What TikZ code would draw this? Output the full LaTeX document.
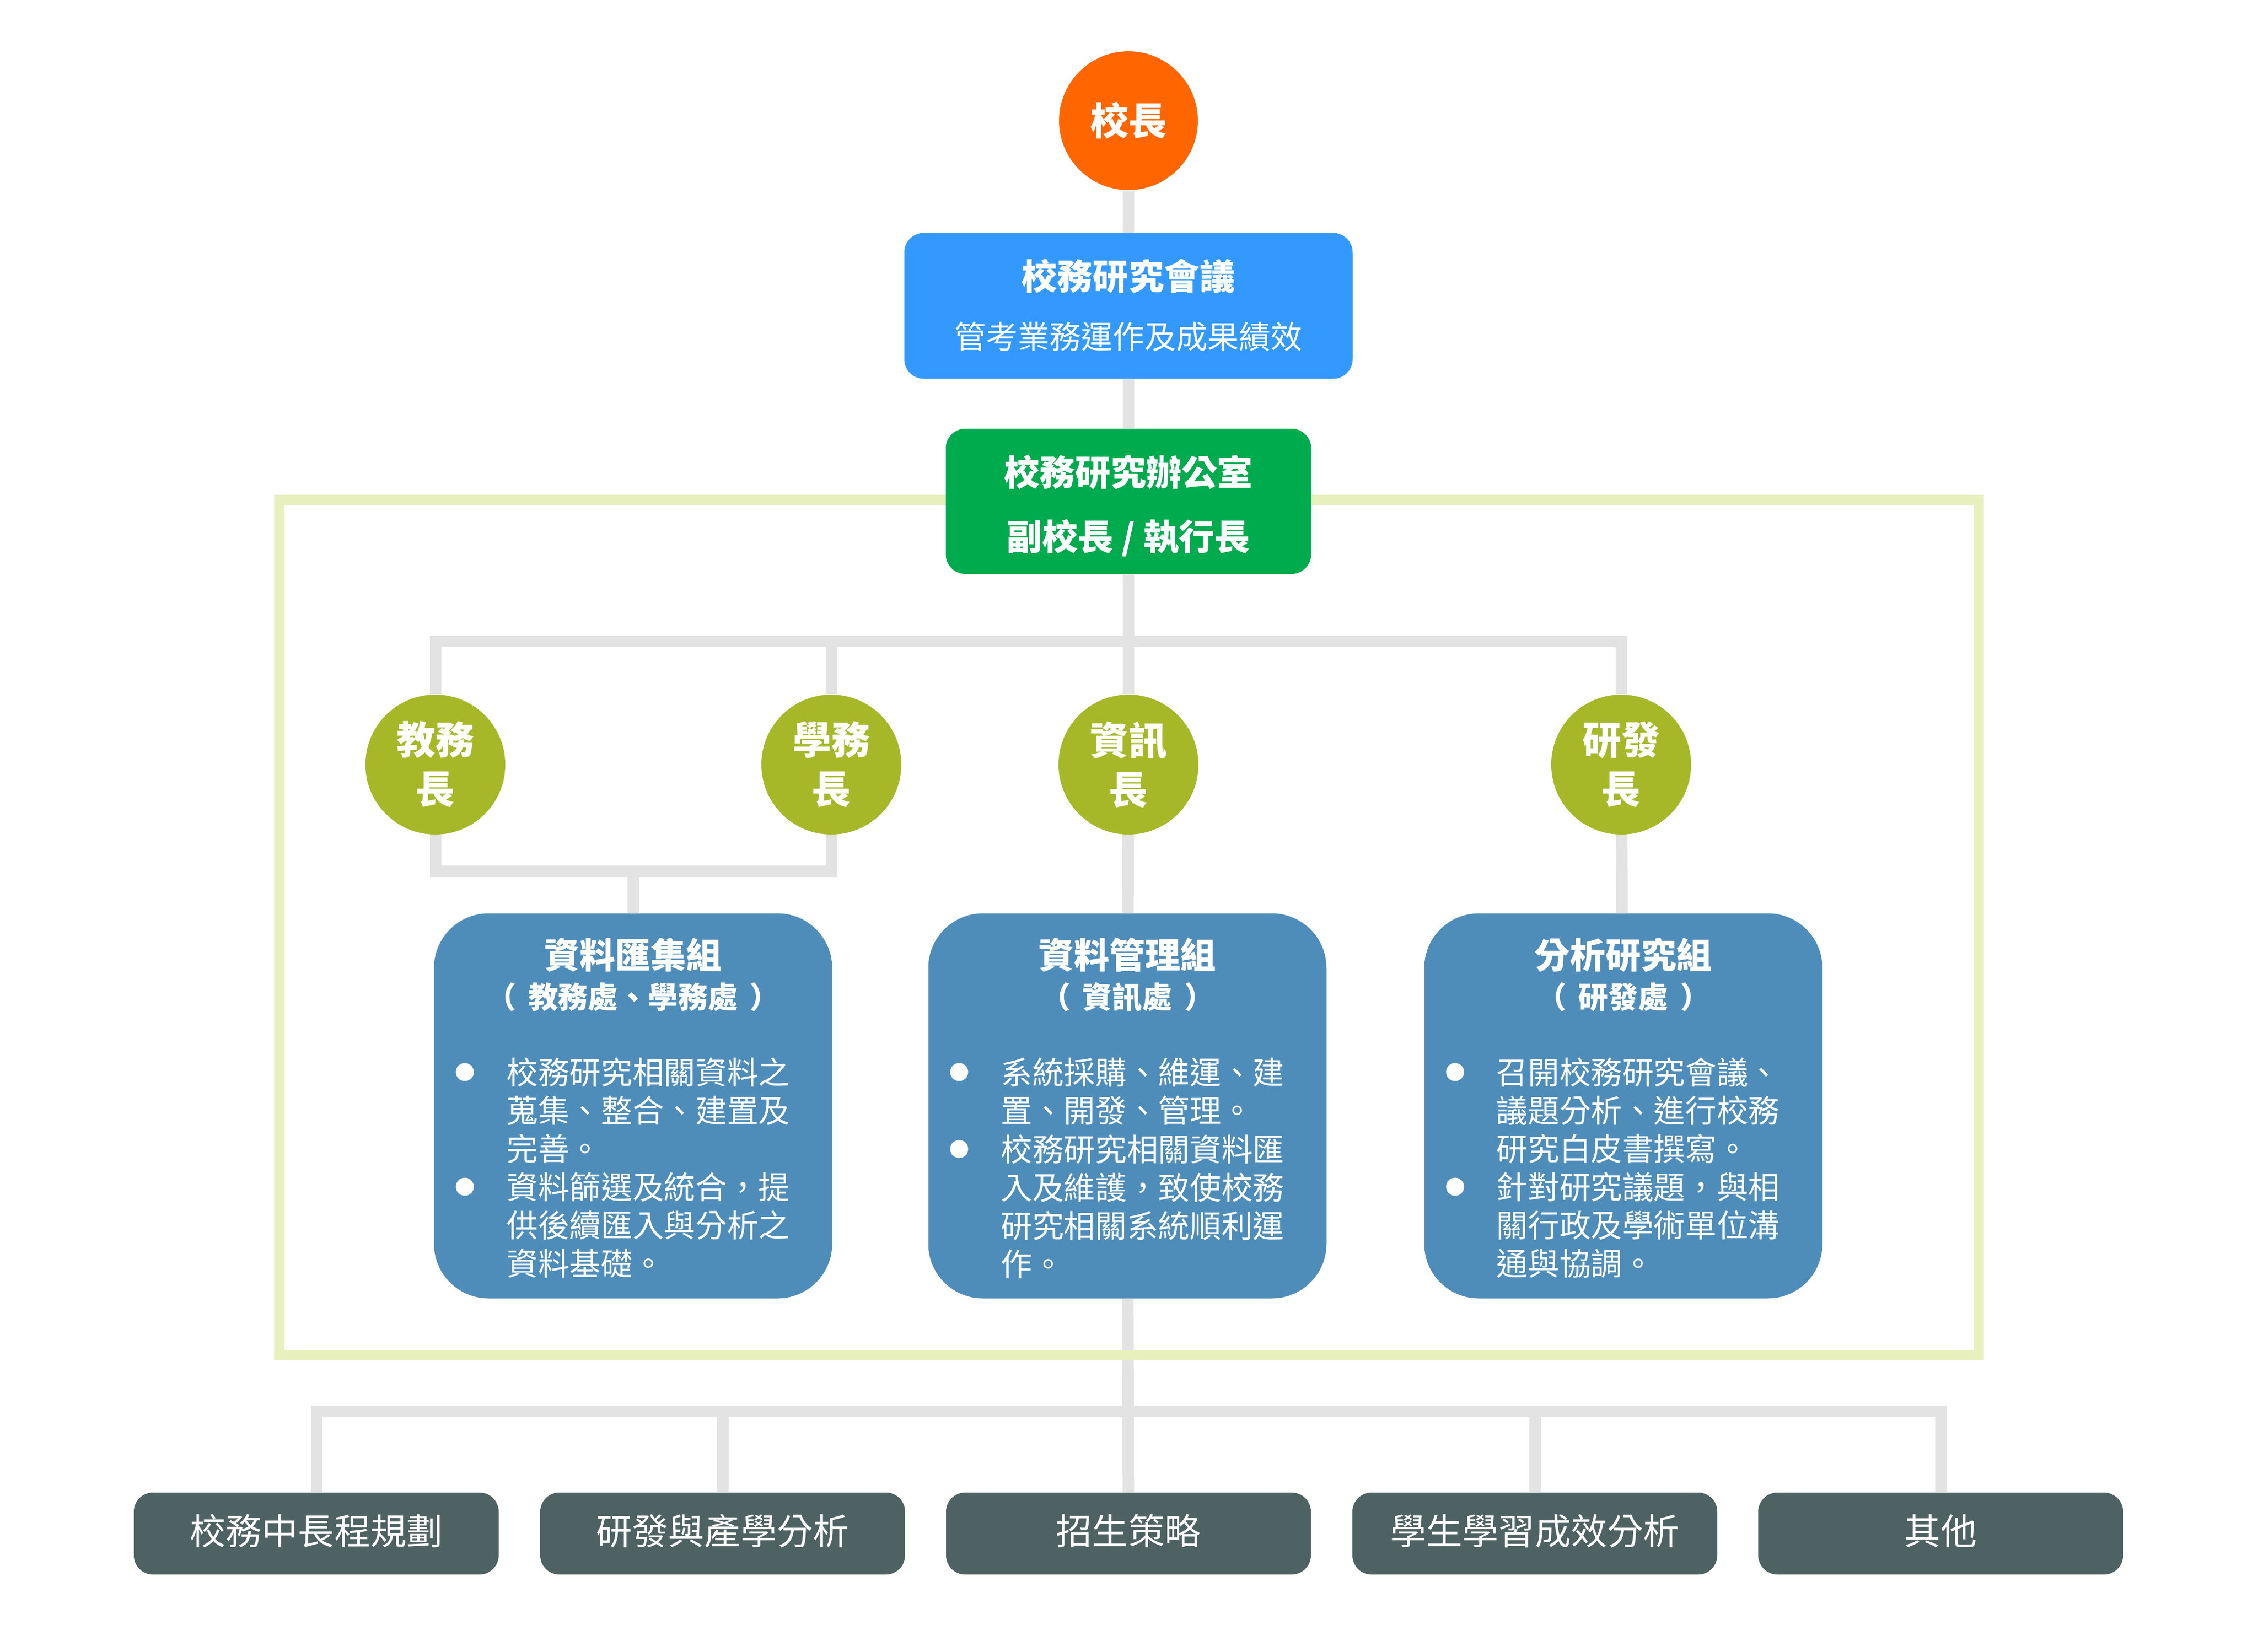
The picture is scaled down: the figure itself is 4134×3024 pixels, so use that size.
\documentclass[tikz,border=0pt]{standalone}
\usepackage{fontspec}
\setmainfont{Noto Sans CJK TC}
\usetikzlibrary{positioning, calc}
\pgfdeclarelayer{background}
\pgfsetlayers{background,main}
\definecolor{presorange}{HTML}{FF6600}
\definecolor{mtgblue}{HTML}{3399FF}
\definecolor{ofcgreen}{HTML}{00AB4E}
\definecolor{chiefgreen}{HTML}{A6B828}
\definecolor{groupblue}{HTML}{4E8DBA}
\definecolor{taskslate}{HTML}{4E6264}
\definecolor{linkgray}{HTML}{E3E3E3}
\definecolor{framegreen}{HTML}{E8F0BE}
\tikzset{every node/.style={text=white, inner sep=0pt}}
\newcommand{\unitgap}{\hspace{0.4em}}

\begin{document}
\begin{tikzpicture}[
            x=0.1mm, y=-0.1mm,
            link/.style={draw=linkgray, line width=2.1mm},
            chief/.style={
                circle, fill=chiefgreen,
                minimum size=25.6mm, align=center,
                font=\fontsize{20.2}{25.6}\selectfont\bfseries,
            },
            group/.style={
                fill=groupblue, rounded corners=10mm,
                minimum width=72.9mm, minimum height=70.5mm,
            },
            headline/.style={anchor=base, font=\fontsize{18.5}{22}\selectfont\bfseries},
            subline/.style={anchor=base, font=\fontsize{15.6}{19}\selectfont\bfseries},
            bulletdot/.style={circle, fill=white, minimum size=3.3mm},
            itemtext/.style={anchor=north west, align=left, font=\fontsize{16.4}{19.9}\selectfont},
            task/.style={
                fill=taskslate, rounded corners=3.5mm,
                minimum width=66.8mm, minimum height=15mm, text depth=1.5mm,
                font=\fontsize{18.8}{22}\selectfont,
            }]
        \useasboundingbox (0,0) rectangle (4134,3024);
        % top of the chart
        \node[circle, fill=presorange, minimum size=25.4mm,
              font=\fontsize{19.9}{24}\selectfont\bfseries] (pres) at (2066,221) {校長};
        \node[fill=mtgblue, rounded corners=3.6mm,
              minimum width=82.1mm, minimum height=26.7mm] (mtg) at (2066,560) {};
        \node[headline] (mtgtitle) at (2066,530) {校務研究會議};
        \node[anchor=base, font=\fontsize{16.5}{20}\selectfont] (mtgnote) at (2066,638) {管考業務運作及成果績效};
        \node[fill=ofcgreen, rounded corners=3.6mm,
              minimum width=66.9mm, minimum height=26.6mm] (ofc) at (2066,918) {};
        \node[headline] (ofctitle) at (2066,889) {校務研究辦公室};
        \node[headline] (ofchead) at (2066,1007) {副校長 / 執行長};
        % chiefs
        \node[chief] (aca) at (797,1400) {教務\\長};
        \node[chief] (stu) at (1522,1400) {學務\\長};
        \node[chief] (cio) at (2066,1400) {資訊\\長};
        \node[chief] (rd) at (2968,1400) {研發\\長};
        % working groups
        \node[group] (g1) at (1159,2025) {};
        \node[headline] (g1title) at (1159,1773) {資料匯集組};
        \node[subline] (g1unit) at (1159,1846) {（\unitgap 教務處、學務處\unitgap）};
        \node[bulletdot] (g1b1) at (851,1963) {};
        \node[itemtext] (g1i1) at (927,1936) {校務研究相關資料之\\蒐集、整合、建置及\\完善。};
        \node[bulletdot] (g1b2) at (851,2173) {};
        \node[itemtext] (g1i2) at (927,2146) {資料篩選及統合，提\\供後續匯入與分析之\\資料基礎。};
        \node[group] (g2) at (2064,2025) {};
        \node[headline] (g2title) at (2064,1773) {資料管理組};
        \node[subline] (g2unit) at (2064,1846) {（\unitgap 資訊處\unitgap）};
        \node[bulletdot] (g2b1) at (1756,1963) {};
        \node[itemtext] (g2i1) at (1832,1936) {系統採購、維運、建\\置、開發、管理。};
        \node[bulletdot] (g2b2) at (1756,2104) {};
        \node[itemtext] (g2i2) at (1832,2077) {校務研究相關資料匯\\入及維護，致使校務\\研究相關系統順利運\\作。};
        \node[group] (g3) at (2972,2025) {};
        \node[headline] (g3title) at (2972,1773) {分析研究組};
        \node[subline] (g3unit) at (2972,1846) {（\unitgap 研發處\unitgap）};
        \node[bulletdot] (g3b1) at (2664,1963) {};
        \node[itemtext] (g3i1) at (2739,1936) {召開校務研究會議、\\議題分析、進行校務\\研究白皮書撰寫。};
        \node[bulletdot] (g3b2) at (2664,2173) {};
        \node[itemtext] (g3i2) at (2739,2146) {針對研究議題，與相\\關行政及學術單位溝\\通與協調。};
        % research topics
        \node[task] (t1) at (579,2808) {校務中長程規劃};
        \node[task] (t2) at (1323,2808) {研發與產學分析};
        \node[task] (t3) at (2066,2808) {招生策略};
        \node[task] (t4) at (2810,2808) {學生學習成效分析};
        \node[task] (t5) at (3553,2808) {其他};
        % buses
        \coordinate (busA) at (2066,1174);
        \coordinate (busB) at (1159,1595);
        \coordinate (busC) at (2066,2584);
        \begin{pgfonlayer}{background}
            \draw[link] (pres) -- (mtg) -- (ofc) -- (cio) -- (g2) -- (t3);
            \draw[link] (aca) |- (busA) -| (rd);
            \draw[link] (stu) -- (stu |- busA);
            \draw[link] (aca) |- (busB) -| (stu);
            \draw[link] (busB) -- (g1);
            \draw[link] (rd) -- (g3);
            \draw[link] (t1) |- (busC) -| (t5);
            \draw[link] (t2) -- (t2 |- busC);
            \draw[link] (t4) -- (t4 |- busC);
            \draw[draw=framegreen, line width=1.9mm] (511,915) rectangle (3622,2481);
        \end{pgfonlayer}
        \end{tikzpicture}
\end{document}
